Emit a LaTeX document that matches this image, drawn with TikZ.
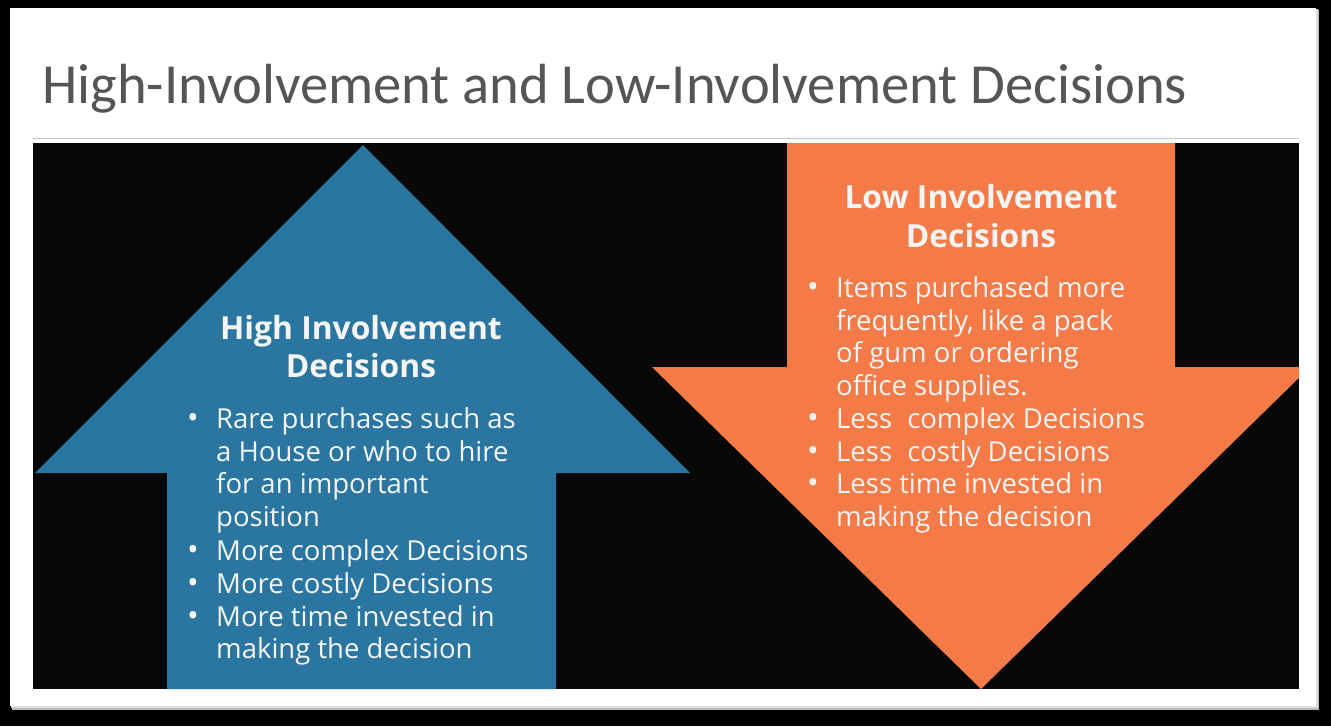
\documentclass[tikz,border=0pt]{standalone}
\usepackage{fontspec}
\setmainfont{Open Sans}
\newfontfamily\titlefont{Carlito}
\definecolor{slidebg}{HTML}{FFFFFF}
\definecolor{panelbg}{HTML}{080808}
\definecolor{upblue}{HTML}{2A76A1}
\definecolor{downorange}{HTML}{F47B47}
\definecolor{titlegray}{HTML}{555555}
\definecolor{rulegray}{HTML}{C4C4C4}
\definecolor{bodytext}{HTML}{F4F4F4}
\tikzset{
  heading/.style={inner sep=0pt, anchor=base, text=bodytext,
    font=\fontsize{31.8}{38}\selectfont\bfseries},
  bodyline/.style={inner sep=0pt, anchor=base west, text=bodytext,
    font=\fontsize{27.5}{32}\selectfont},
  bulletdot/.style={inner sep=0pt, anchor=base, text=bodytext,
    font=\fontsize{31}{32}\selectfont},
}
\begin{document}
\begin{tikzpicture}[x=1pt,y=-1pt]
\useasboundingbox (0,0) rectangle (1331,726);
% surrounding dark backdrop and the slide with its soft shadow
\fill[black] (0,0) rectangle (1331,726);
\fill[gray!55] (12,10) rectangle (1319,710);
\fill[gray!25] (11,9) rectangle (1318,708);
\fill[slidebg] (10,8) rectangle (1316,706);
% title and rule
\node[inner sep=0pt, anchor=base west, text=titlegray,
      font=\titlefont\fontsize{56.6}{60}\selectfont] (title) at (42,103)
      {High-Involvement and Low-Involvement Decisions};
\draw[rulegray, line width=1.6pt] (33,138.5) -- (1299,138.5);
% dark content panel
\fill[panelbg] (33,143) rectangle (1299,689);
\begin{scope}
  \clip (33,143) rectangle (1299,689);
  % upward arrow
  \fill[upblue] (363,145) -- (690,473) -- (556,473) -- (556,689)
     -- (167,689) -- (167,473) -- (35,473) -- cycle;
  % downward arrow
  \fill[downorange] (787,143) -- (1175,143) -- (1175,367) -- (1310,367)
     -- (981,689) -- (652,367) -- (787,367) -- cycle;
\end{scope}
% high involvement text
\node[heading] (hiA) at (361,339) {High Involvement};
\node[heading] (hiB) at (361,377) {Decisions};
\foreach \y/\txt [count=\i] in {
  428/Rare purchases such as,
  461/a House or who to hire,
  493.5/for an important,
  526/position,
  560/More complex Decisions,
  593/More costly Decisions,
  626/More time invested in,
  658.5/making the decision}
  \node[bodyline] (hi\i) at (216,\y) {\txt};
\foreach \y [count=\i] in {428,560,593,626}
  \node[bulletdot] (hidot\i) at (193,\y) {•};
% low involvement text
\node[heading] (loA) at (981,208) {Low Involvement};
\node[heading] (loB) at (981,247) {Decisions};
\foreach \y/\txt [count=\i] in {
  297/Items purchased more,
  330/{frequently, like a pack},
  362.5/of gum or ordering,
  395/office supplies.,
  428/Less\hspace{0.55em}complex Decisions,
  461/Less\hspace{0.55em}costly Decisions,
  493.5/Less time invested in,
  526/making the decision}
  \node[bodyline] (lo\i) at (836,\y) {\txt};
\foreach \y [count=\i] in {297,428,461,493.5}
  \node[bulletdot] (lodot\i) at (813,\y) {•};
\end{tikzpicture}
\end{document}
